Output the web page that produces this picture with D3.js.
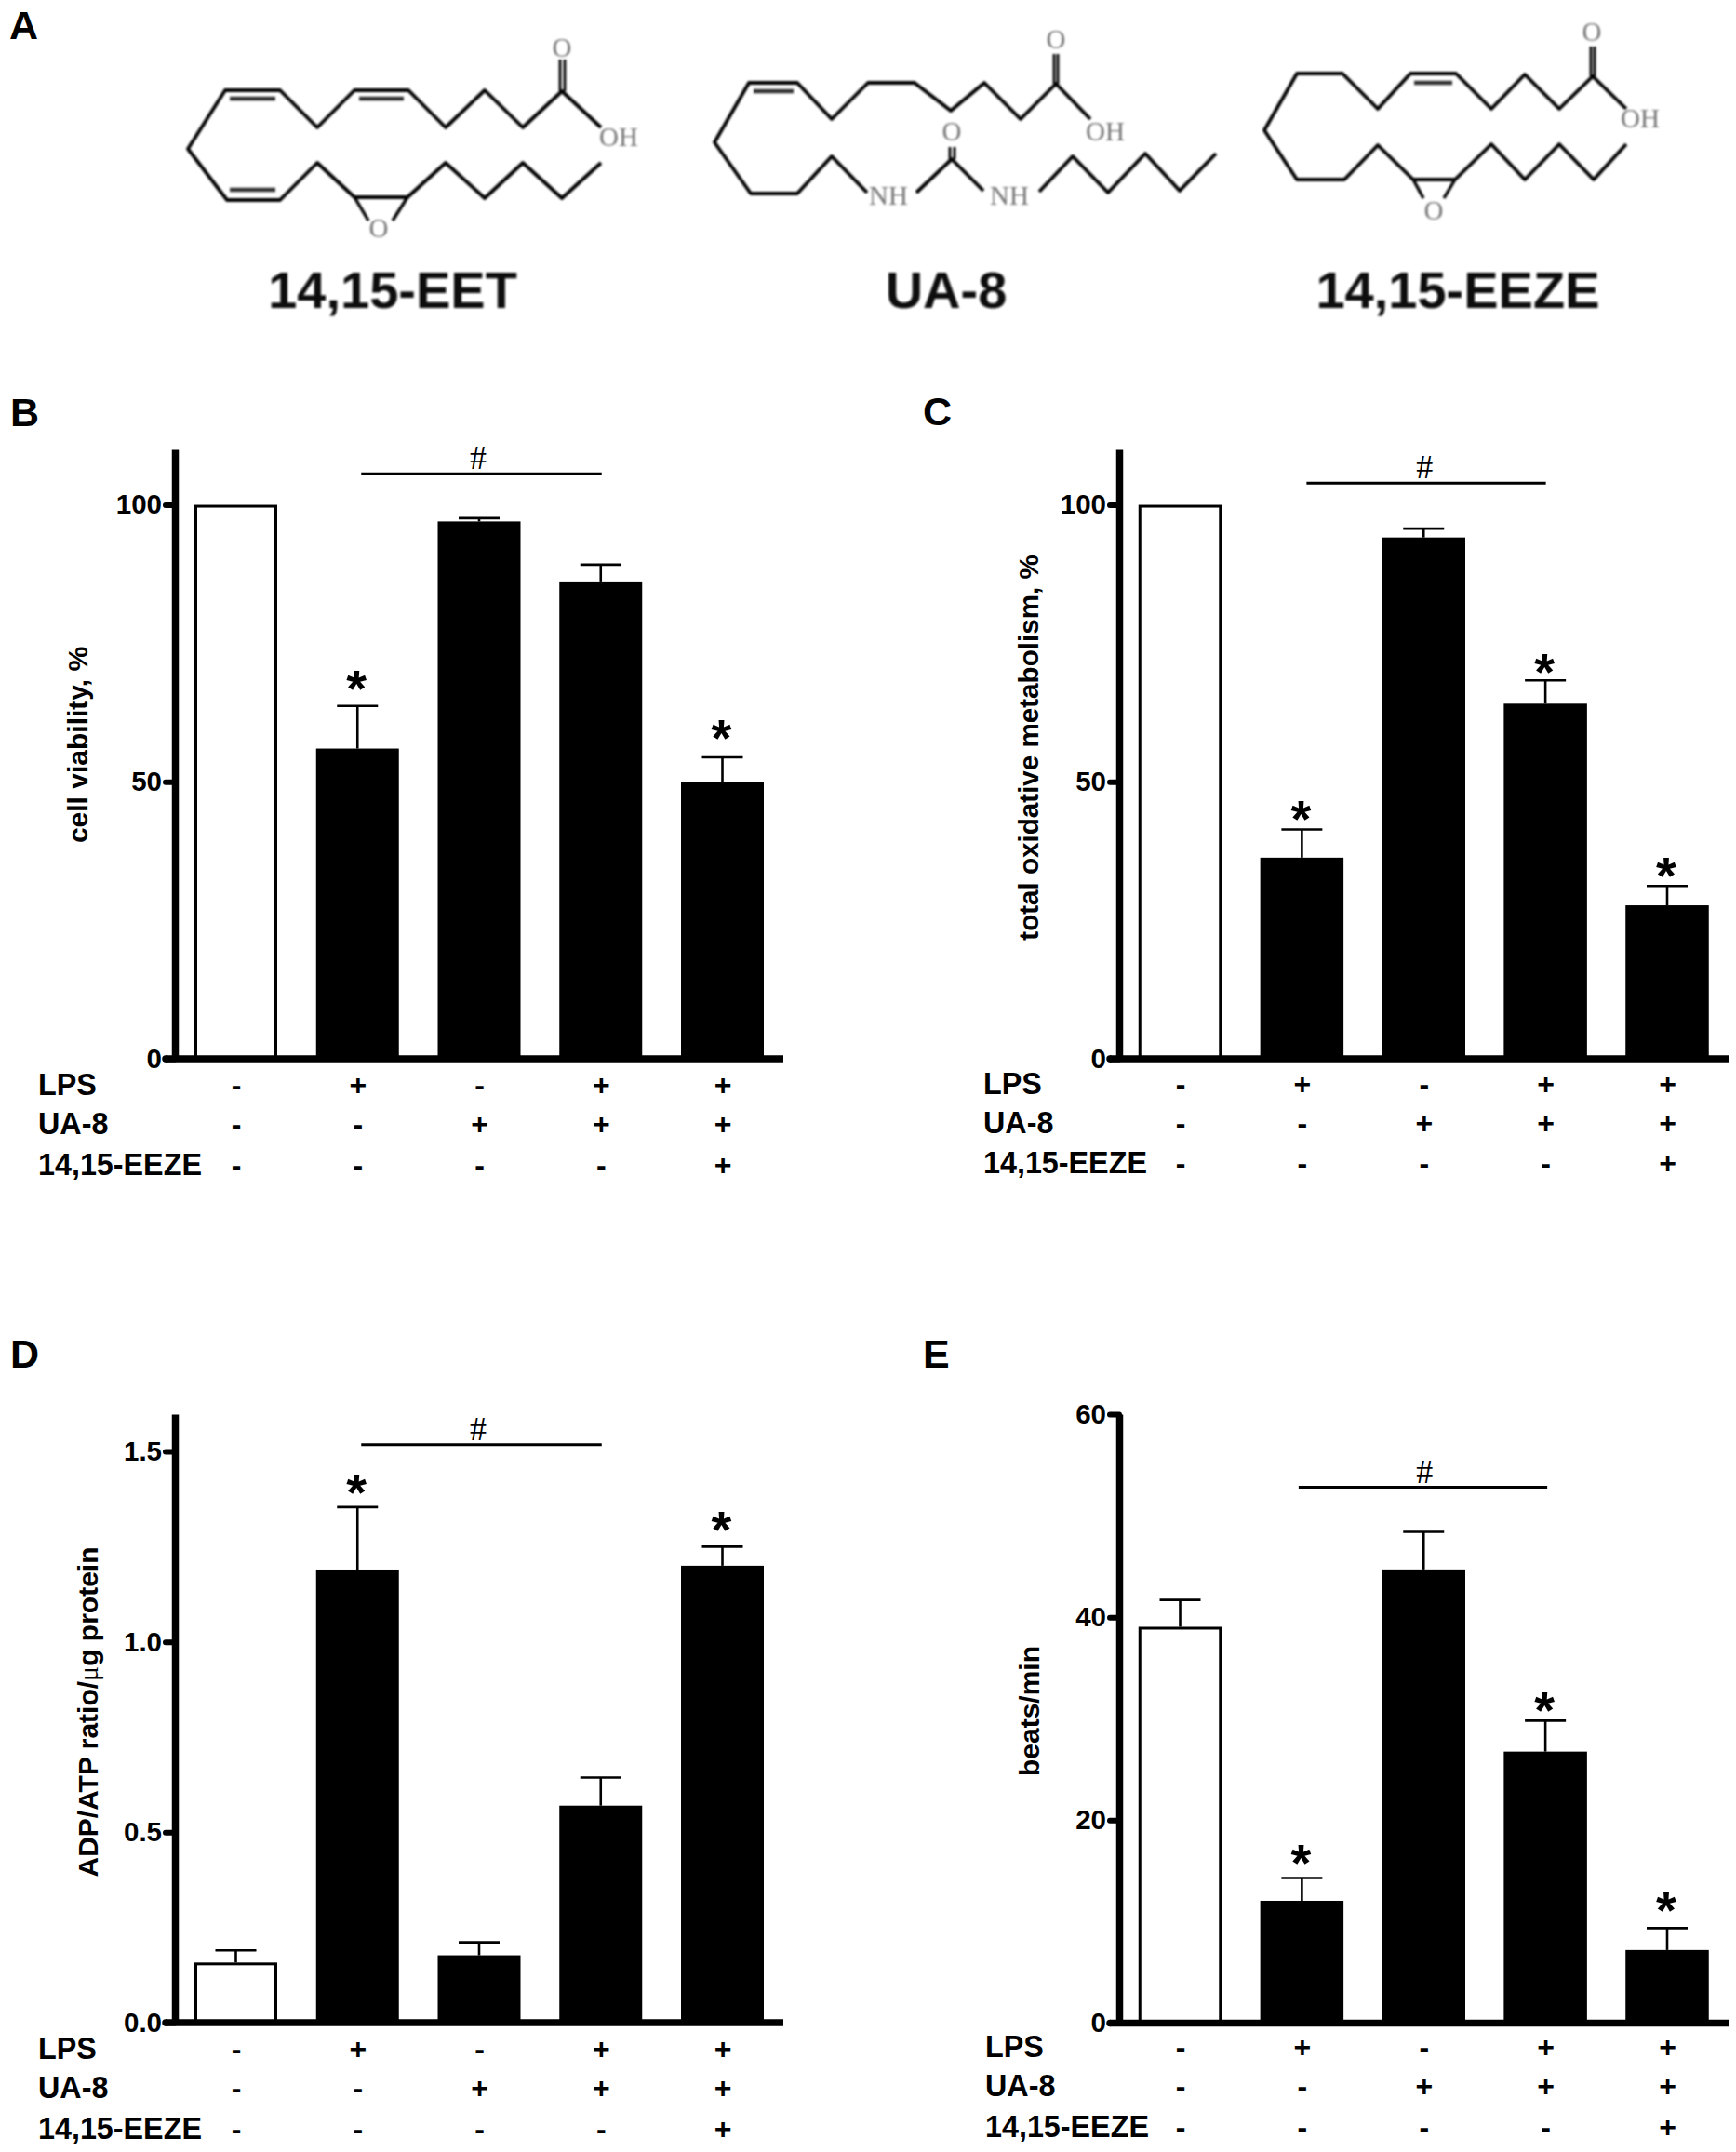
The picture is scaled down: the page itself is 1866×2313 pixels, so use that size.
<!DOCTYPE html>
<html><head><meta charset="utf-8">
<script src="https://cdnjs.cloudflare.com/ajax/libs/d3/7.8.5/d3.min.js"></script>
<style>
html,body{margin:0;padding:0;background:#fff}
svg{display:block}
</style></head><body>
<svg id="fig" width="1866" height="2313" font-family="Liberation Sans" fill="#000"></svg>
<script>
// ---------- data ----------
const categories = ["ctrl","LPS","UA8","LPS+UA8","LPS+UA8+EEZE"];
const lpsRow  = ["-","+","-","+","+"];
const ua8Row  = ["-","-","+","+","+"];
const eezeRow = ["-","-","-","-","+"];
const rowNames = ["LPS","UA-8","14,15-EEZE"];

const bValues = [100,56,97,86,50];
const bTops   = [null,63.7,97.6,89.2,54.4];
const bStars  = [null,68,null,null,59.1];
const bSig    = 105.6;
const bTicks  = [0,50,100];

const cValues = [100,36.3,94.1,64.1,27.7];
const cTops   = [null,41.4,95.7,68.3,31.2];
const cStars  = [null,44.5,null,71,34.1];
const cSig    = 103.9;
const cTicks  = [0,50,100];

const dValues = [0.158,1.19,0.177,0.57,1.2];
const dTops   = [0.19,1.354,0.211,0.644,1.25];
const dStars  = [null,1.408,null,null,1.312];
const dSig    = 1.518;
const dTicks  = [0,0.5,1,1.5];

const eValues = [39.05,12.05,44.7,26.75,7.2];
const eTops   = [41.7,14.3,48.4,29.8,9.35];
const eStars  = [null,16.4,null,31.4,11.7];
const eSig    = 52.8;
const eTicks  = [0,20,40,60];

// chemical structures (skeleton vertices)
const eetChain  = [[646,137],[604,98],[562,137],[521,97],[479,137],[439,97],[381,97],[341,137],[301,97],[242,97],[202,160],[244,215],[301,215],[341,175],[381,212],[438,212],[479,175],[521,213],[562,175],[604,213],[646,175]];
const eetDouble = [[[247,106],[296,106]],[[386,106],[434,106]],[[247,204],[296,204]]];
const eetEpoxy  = [[[381,212],[396,237]],[[438,212],[422,237]]];
const eetAcid   = [[[602,98],[602,64]],[[607,98],[607,64]]];
const ua8Chain  = [[1172,128],[1135,90],[1097,128],[1058,89],[1022,119],[983,89],[933,89],[894,128],[857,89],[805,89],[768,153],[807,208],[857,208],[894,168],[932,207]];
const ua8Tail   = [[985,207],[1023,171],[1057,205]];
const ua8Tail2  = [[1117,206],[1153,168],[1191,207],[1231,165],[1268,205],[1307,165]];
const ua8Double = [[[810,98],[853,98]]];
const ua8Acid   = [[[1133,90],[1133,58]],[[1137,90],[1137,58]]];
const ua8Urea   = [[[1021,171],[1021,158]],[[1026,171],[1026,158]]];
const eezeChain = [[1748,117],[1712,82],[1676,117],[1639,80],[1603,117],[1565,79],[1516,79],[1481,117],[1443,79],[1394,79],[1359,140],[1394,193],[1445,193],[1481,156],[1519,193],[1564,193],[1603,155],[1639,193],[1676,155],[1713,193],[1748,155]];
const eezeDouble= [[[1520,89],[1561,89]]];
const eezeEpoxy = [[[1519,193],[1530,213]],[[1564,193],[1552,213]]];
const eezeAcid  = [[[1710,82],[1710,50]],[[1714,82],[1714,50]]];

// ---------- layout ----------
const svg = d3.select("#fig");
const defs = svg.append("defs");
defs.append("filter").attr("id","soft").append("feGaussianBlur").attr("stdDeviation",0.8);
defs.append("filter").attr("id","softer").append("feGaussianBlur").attr("stdDeviation",1.2);

const panels = [
 {letter:"B",lx:11,ly:458,values:bValues,tops:bTops,stars:bStars,sig:bSig,ticks:bTicks,fmt:d3.format("d"),
  max:110,base:1138,top:483,axisX:188,tickX:178,right:842,c0:253.5,c4:776.5,w:89,
  sigX:[4,1],hashDx:-1,rowX:41,rowY:[1177,1219,1262.5],
  ylabel:[{t:"cell viability, %"}],ylx:94,yly:800.5},
 {letter:"C",lx:992,ly:457,values:cValues,tops:cTops,stars:cStars,sig:cSig,ticks:cTicks,fmt:d3.format("d"),
  max:110,base:1138,top:483,axisX:1203,tickX:1193,right:1858,c0:1268.5,c4:1792,w:89.5,
  sigX:[5,0.5],hashDx:1,rowX:1057,rowY:[1176,1218,1261],
  ylabel:[{t:"total oxidative metabolism, %"}],ylx:1115.5,yly:803.5,yfs:29.6},
 {letter:"D",lx:11,ly:1469.5,values:dValues,tops:dTops,stars:dStars,sig:dSig,ticks:dTicks,fmt:d3.format(".1f"),
  max:1.598,base:2174,top:1520,axisX:188,tickX:178,right:842,c0:253.5,c4:776.5,w:89,
  sigX:[4,1],hashDx:-1,rowX:41,rowY:[2213,2255,2298.5],
  ylabel:[{t:"ADP/ATP ratio/"},{t:"\u03bc",serif:true},{t:"g protein"}],ylx:105,yly:1840},
 {letter:"E",lx:992,ly:1469.5,values:eValues,tops:eTops,stars:eStars,sig:eSig,ticks:eTicks,fmt:d3.format("d"),
  max:60,base:2174.4,top:1520,axisX:1203,tickX:1193,right:1858,c0:1268.5,c4:1792,w:89.5,
  sigX:[-3.5,2],hashDx:1,rowX:1059,rowY:[2210.5,2253,2297],
  ylabel:[{t:"beats/min"}],ylx:1116.5,yly:1839}
];

panels.forEach(p=>{
  const g = svg.append("g");
  const x = d3.scalePoint().domain(categories).range([p.c0,p.c4]);
  const y = d3.scaleLinear().domain([0,p.max]).range([p.base,p.top]);
  const rows = categories.map((c,i)=>({c,i,v:p.values[i],top:p.tops[i],star:p.stars[i]}));

  g.append("text").attr("x",p.lx).attr("y",p.ly).attr("font-size",43).attr("font-weight","bold").text(p.letter);

  // error bars
  const errs = rows.filter(d=>d.top!=null);
  g.selectAll(".stem").data(errs).join("line").attr("x1",d=>x(d.c)).attr("x2",d=>x(d.c))
    .attr("y1",d=>y(d.v)).attr("y2",d=>y(d.top)).attr("stroke","#000").attr("stroke-width",2.6);
  g.selectAll(".cap").data(errs).join("line").attr("x1",d=>x(d.c)-22).attr("x2",d=>x(d.c)+22)
    .attr("y1",d=>y(d.top)).attr("y2",d=>y(d.top)).attr("stroke","#000").attr("stroke-width",2.6);

  // bars
  g.selectAll(".bar").data(rows).join("rect")
    .attr("x",d=>x(d.c)-p.w/2+1.5).attr("width",p.w-3)
    .attr("y",d=>y(d.v)+1.5).attr("height",d=>p.base-y(d.v)-1.5)
    .attr("fill",d=>d.i===0?"#fff":"#000").attr("stroke","#000").attr("stroke-width",3);

  // y axis
  const axis = g.append("g").attr("transform",`translate(${p.axisX},0)`)
    .call(d3.axisLeft(y).tickValues(p.ticks).tickFormat(p.fmt).tickSize(p.axisX-p.tickX).tickSizeOuter(0).tickPadding(4));
  axis.select(".domain").attr("stroke","#000").attr("stroke-width",7.5);
  axis.selectAll(".tick line").attr("stroke","#000").attr("stroke-width",6).attr("stroke-linecap","round");
  axis.selectAll(".tick text").attr("font-family","Liberation Sans").attr("font-size",29.5).attr("font-weight","bold").attr("fill","#000");

  // baseline
  g.append("line").attr("x1",p.tickX).attr("x2",p.right).attr("y1",p.base).attr("y2",p.base)
    .attr("stroke","#000").attr("stroke-width",7.5);
  g.append("circle").attr("cx",p.tickX).attr("cy",p.base).attr("r",3.75).attr("fill","#000");

  // y label
  const yl = g.append("text").attr("transform",`translate(${p.ylx},${p.yly}) rotate(-90)`)
    .attr("text-anchor","middle").attr("font-size",p.yfs||30).attr("font-weight","bold");
  p.ylabel.forEach(s=>{
    const t = yl.append("tspan").text(s.t);
    if(s.serif) t.attr("font-family","Liberation Serif").attr("font-weight","normal");
  });

  // significance bar
  const sy = y(p.sig);
  g.append("line").attr("x1",x(categories[1])+p.sigX[0]).attr("x2",x(categories[3])+p.sigX[1])
    .attr("y1",sy).attr("y2",sy).attr("stroke","#000").attr("stroke-width",3);
  g.append("text").attr("x",x(categories[2])+p.hashDx).attr("y",sy-5).attr("text-anchor","middle")
    .attr("font-family","Liberation Serif").attr("font-size",36).text("#");

  // stars
  g.selectAll(".star").data(rows.filter(d=>d.star!=null)).join("text")
    .attr("x",d=>x(d.c)-1).attr("y",d=>y(d.star)+25.5).attr("text-anchor","middle")
    .attr("font-size",56).attr("font-weight","bold").text("*");

  // treatment table
  [lpsRow,ua8Row,eezeRow].forEach((row,r)=>{
    g.append("text").attr("x",p.rowX).attr("y",p.rowY[r]).attr("font-size",32.3).attr("font-weight","bold").text(rowNames[r]);
    g.selectAll(".sym"+r).data(row).join("text")
      .attr("x",(d,i)=>x(categories[i])+0.5).attr("y",p.rowY[r]).attr("text-anchor","middle")
      .attr("font-size",32).attr("font-weight","bold").text(d=>d);
  });
});

// ---------- panel A: structures ----------
svg.append("text").attr("x",10).attr("y",42).attr("font-size",43).attr("font-weight","bold").text("A");
const mol = svg.append("g").attr("filter","url(#soft)");
const path = d3.line().curve(d3.curveLinear);
const bond = (pts,w=3.8,c="#000")=>mol.append("path").attr("d",path(pts)).attr("fill","none").attr("stroke",c).attr("stroke-width",w).attr("stroke-linejoin","round");
[eetChain,ua8Chain,ua8Tail,ua8Tail2,eezeChain].forEach(c=>bond(c));
[...eetDouble,...ua8Double,...eezeDouble].forEach(s=>bond(s,4.4,"#333"));
[...eetEpoxy,...eezeEpoxy].forEach(s=>bond(s,3.4));
[...eetAcid,...ua8Acid,...ua8Urea,...eezeAcid].forEach(s=>bond(s,2.8));
const atoms = [["O",604,52],["OH",665,148],["O",407,246],["O",1135,43],["OH",1188,142],["O",1023,142],["NH",955,211],["NH",1085,211],["O",1711,35],["OH",1763,128],["O",1541,227]];
mol.selectAll(".atom").data(atoms).join("text").attr("x",d=>d[1]).attr("y",d=>d[2]+9).attr("text-anchor","middle")
  .attr("font-family","Liberation Serif").attr("font-size",29).attr("fill","#777").text(d=>d[0]);
const names = [["14,15-EET",422],["UA-8",1017],["14,15-EEZE",1567]];
svg.append("g").attr("filter","url(#softer)").selectAll("text").data(names).join("text").attr("x",d=>d[1]).attr("y",331).attr("text-anchor","middle")
  .attr("font-size",56).attr("font-weight","bold").attr("fill","#111").text(d=>d[0]);
</script>
</body></html>
